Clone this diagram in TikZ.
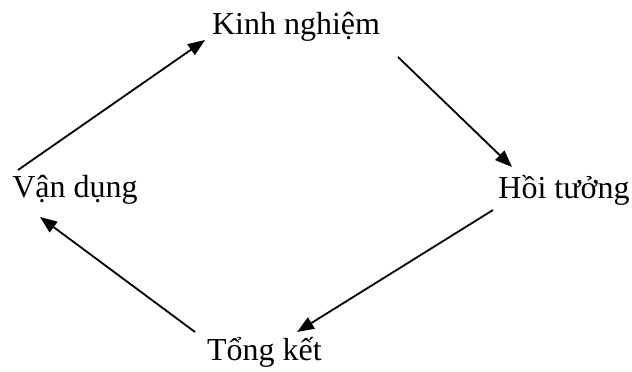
\documentclass[tikz,border=0pt]{standalone}
\usepackage{fontspec}
\setmainfont{Liberation Serif}
\usetikzlibrary{arrows.meta}
\begin{document}
\begin{tikzpicture}[x=1pt,y=1pt,
  lbl/.style={inner sep=0pt,anchor=base,font=\fontsize{32}{36}\selectfont},
  arr/.style={line width=1.8pt,-{Triangle[length=17pt,width=13pt]}}]
\useasboundingbox (0,0) rectangle (632,372);
\node[lbl] (kn) at (296,337) {Kinh nghiệm};
\node[lbl] (ht) at (564,173) {Hồi tưởng};
\node[lbl] (tk) at (264.5,11) {Tổng kết};
\node[lbl] (vd) at (75,174) {Vận dụng};
\draw[arr] ([shift={(-57,28)}]vd.base) -- ([shift={(-91,-5)}]kn.base);
\draw[arr] ([shift={(102,-22)}]kn.base) -- ([shift={(-52,32)}]ht.base);
\draw[arr] ([shift={(-71,-11)}]ht.base) -- ([shift={(32.5,29)}]tk.base);
\draw[arr] ([shift={(-69.5,29)}]tk.base) -- ([shift={(-35,-19)}]vd.base);
\end{tikzpicture}
\end{document}
